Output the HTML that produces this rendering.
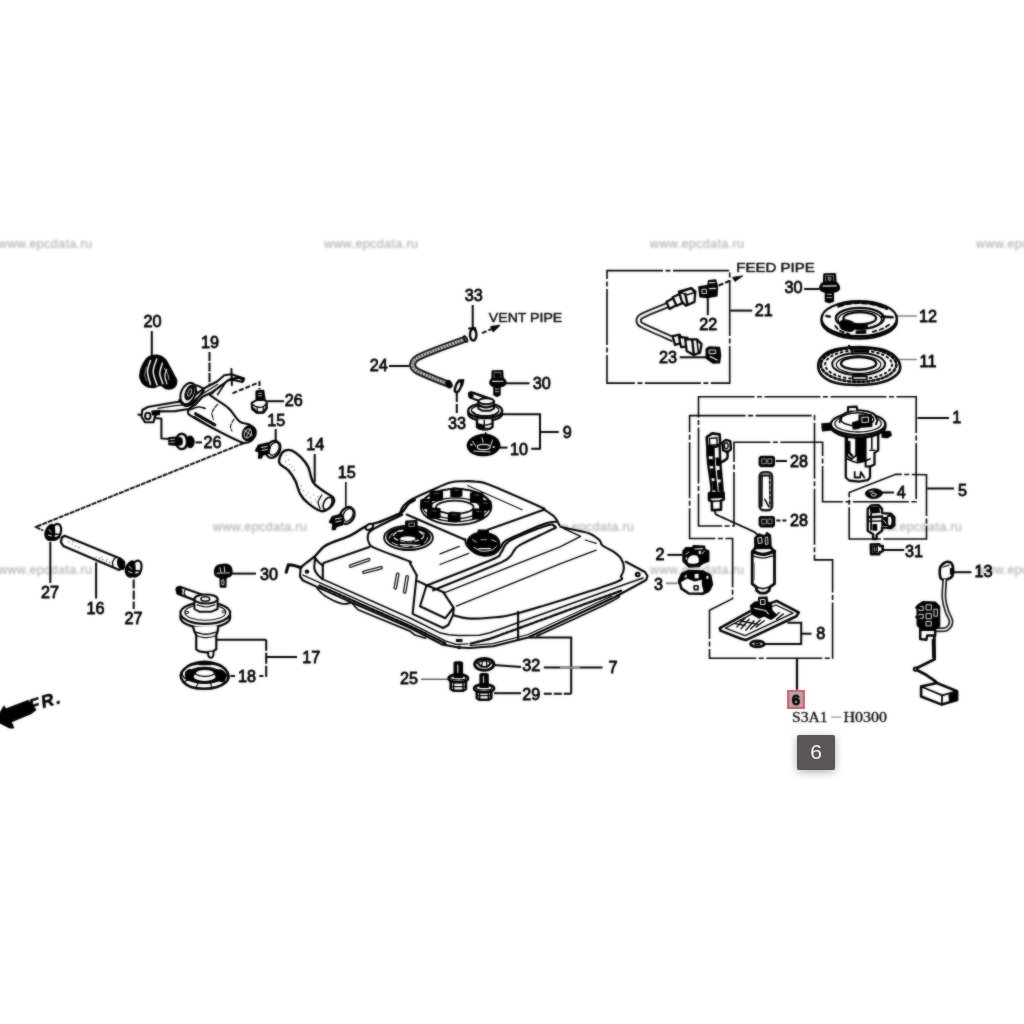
<!DOCTYPE html>
<html>
<head>
<meta charset="utf-8">
<title>Fuel tank parts diagram</title>
<style>
html,body{margin:0;padding:0;background:#fff;}
body{width:1024px;height:1024px;overflow:hidden;position:relative;font-family:"Liberation Sans",sans-serif;}
svg{position:absolute;left:0;top:0;}
.lbl{font-family:"Liberation Sans",sans-serif;font-size:16.2px;fill:#000;stroke:#000;stroke-width:0.8px;text-anchor:middle;}
.wm{font-family:"Liberation Sans",sans-serif;font-size:12.5px;fill:#adadad;stroke:#adadad;stroke-width:0.1px;}
.ld{stroke:#000;stroke-width:2.0;fill:none;}
.bx{stroke:#000;stroke-width:1.6;fill:none;stroke-dasharray:56 2.5 5 2.5;}
.ds{stroke:#000;stroke-width:2.0;fill:none;stroke-dasharray:5 2;}
.p{stroke:#000;stroke-width:2.1;fill:#fff;stroke-linejoin:round;stroke-linecap:round;}
.n{stroke:#000;stroke-width:2.1;fill:none;stroke-linejoin:round;stroke-linecap:round;}
.t{stroke:#151515;stroke-width:1;fill:none;stroke-linejoin:round;stroke-linecap:round;}
.k{stroke:#000;stroke-width:1.4;fill:#000;stroke-linejoin:round;}
.txt{font-family:"Liberation Sans",sans-serif;font-weight:normal;font-size:13.5px;fill:#111;stroke:#111;stroke-width:0.5px;}
#tip{position:absolute;left:797px;top:735px;width:38px;height:35px;background:#5b5656;border-radius:2px;box-shadow:0 2px 8px rgba(0,0,0,0.32);color:#f4f4f4;font-size:21px;line-height:34px;text-align:center;font-family:"Liberation Sans",sans-serif;}
</style>
</head>
<body>
<svg width="1024" height="1024" viewBox="0 0 1024 1024">
<defs>
<filter id="bl" x="-2%" y="-2%" width="104%" height="104%" color-interpolation-filters="sRGB"><feGaussianBlur stdDeviation="0.8" result="b"/><feComposite in="b" in2="SourceGraphic" operator="arithmetic" k1="0" k2="0.5" k3="0.5" k4="0"/></filter>
<filter id="bw" x="-2%" y="-20%" width="104%" height="140%"><feGaussianBlur stdDeviation="0.9"/></filter>
</defs>
<rect x="0" y="0" width="1024" height="1024" fill="#ffffff"/>

<!-- WATERMARKS -->
<g id="wm" filter="url(#bw)">
<text class="wm" x="-2" y="248" textLength="94" lengthAdjust="spacing">www.epcdata.ru</text>
<text class="wm" x="324" y="248" textLength="94" lengthAdjust="spacing">www.epcdata.ru</text>
<text class="wm" x="650" y="248" textLength="94" lengthAdjust="spacing">www.epcdata.ru</text>
<text class="wm" x="976" y="248" textLength="94" lengthAdjust="spacing">www.epcdata.ru</text>
<text class="wm" x="213" y="531" textLength="94" lengthAdjust="spacing">www.epcdata.ru</text>
<text class="wm" x="540" y="531" textLength="94" lengthAdjust="spacing">www.epcdata.ru</text>
<text class="wm" x="868" y="531" textLength="94" lengthAdjust="spacing">www.epcdata.ru</text>
<text class="wm" x="-2" y="574" textLength="94" lengthAdjust="spacing">www.epcdata.ru</text>
<text class="wm" x="324" y="574" textLength="94" lengthAdjust="spacing">www.epcdata.ru</text>
<text class="wm" x="650" y="574" textLength="94" lengthAdjust="spacing">www.epcdata.ru</text>
<text class="wm" x="976" y="574" textLength="94" lengthAdjust="spacing">www.epcdata.ru</text>
</g>

<g id="art" filter="url(#bl)">
<!-- LEADERS_AND_BOXES -->
<g id="leaders">
<!-- 20 -->
<path class="ld" d="M151.8 331V356"/>
<!-- 19 -->
<path class="ld" d="M209.5 352V386" stroke-dasharray="9 1.5"/>
<!-- 26 upper -->
<path class="ld" d="M267.5 401.2H284"/>
<path class="ds" d="M232.5 393.3L259.5 382.2V389.5"/>
<!-- 26 lower -->
<path class="ld" d="M195.5 442.4H202"/>
<path class="ld" d="M137.5 414.5L143.7 415.2M153.2 417.9L161.4 418.6V438.4L169.6 439.1"/>
<!-- long dashed line -->
<path class="ld" d="M244 443L35.9 526.9L43 530.5" stroke-dasharray="5 0.9" style="stroke-width:1.9"/>
<!-- 27 / 16 / 27 -->
<path class="ld" d="M50.3 542V583"/>
<path class="ld" d="M96.1 562.4V598.5"/>
<path class="ld" d="M133.7 579.5V609" stroke-dasharray="9 2"/>
<!-- 30 left -->
<path class="ld" d="M232 573.6H256"/>
<!-- 17/18 bracket -->
<path class="ld" d="M217 639.8H266.2"/>
<path class="ld" d="M266.2 639.8V676H259.3" stroke-dasharray="11 2"/>
<path class="ld" d="M266.2 657H297"/>
<path class="ld" d="M230.5 676H235"/>
<!-- 15,14,15 -->
<path class="ld" d="M275.7 429V440.5"/>
<path class="ld" d="M314.7 454V482"/>
<path class="ld" d="M345.8 482V506.500" style="stroke-width:1.6"/>
<!-- 25, 32, 29, 7 -->
<path class="ld" d="M421 679.300H448" style="stroke:#555;stroke-width:1.4"/>
<path class="ld" d="M494 664.9L521 667"/>
<path class="ld" d="M494 693.2H521"/>
<path class="ld" d="M528.8 637.5H571.2V693.8"/>
<path class="ld" d="M543.8 693.8H571.2" stroke-dasharray="8 2"/>
<path class="ld" d="M543.8 667.5H602.5"/>
<path class="ld" d="M560 667.5H580" style="stroke:#999"/>
<!-- 2, 3 -->
<path class="ld" d="M667.3 554.9H682.5"/>
<path class="ld" d="M665.9 583.3H677.6" style="stroke:#888"/>
<!-- 33, 24, 30, 9, 10 -->
<path class="ld" d="M472.7 305V328"/>
<path class="ds" d="M482 333.2L493.500 328.200"/>
<path class="k" d="M491 326.700L499.500 325.500L493.200 331.400Z"/>
<path class="ld" d="M389 366H409"/>
<path class="ld" d="M456.8 393V413.500" stroke-dasharray="9 2"/>
<path class="ld" d="M505.4 383.300H529.500"/>
<path class="ld" d="M501.9 414.200H540V448.800H531.2"/>
<path class="ld" d="M540 432H558.7"/>
<path class="ld" d="M499.500 447.600H507.500"/>
<!-- box 21 -->
<path class="bx" d="M607 270.600H729.700V383.100H607Z"/>
<path class="ld" d="M730.500 310.600H752.300"/>
<path class="ld" d="M707.800 296.400V315.200"/>
<path class="ds" d="M718.800 285.500L730 280.700"/>
<path class="k" d="M732.500 277.400L743 275.800L735 281.500Z" style="stroke-width:0.8"/>
<path class="ld" d="M679.700 357.300H706.200"/>
<!-- 30 right, 12, 11 -->
<path class="ld" d="M804.100 289H819.500"/>
<path class="ld" d="M897 316H917" style="stroke:#777;stroke-width:1.4"/>
<path class="ld" d="M897 359.500H917" style="stroke:#777;stroke-width:1.4"/>
<!-- box 1 -->
<path class="bx" d="M698.500 396.800H916.200V501.800H822.600V442.300H734V526H698.500Z"/>
<path class="ld" d="M917.600 418H949"/>
<!-- box 6 -->
<path class="bx" d="M689.600 415.600H814.500V559.900H832.600V658.300H709.500V610.300L732.600 598.600V538.500H689.600Z"/>
<path class="ld" d="M797 659V690" style="stroke-width:2.2"/>
<!-- box 5 -->
<path class="bx" d="M849.200 492.500L895.700 474.300L926.500 474.800V539H849.200Z"/>
<path class="ld" d="M927.200 488.500H954"/>
<path class="ld" d="M882 492.500H894"/>
<path class="ld" d="M883 550H904.200"/>
<!-- 28s -->
<path class="ld" d="M775.700 461H787"/>
<path class="ld" d="M776.400 520.500H787" stroke-dasharray="4 2"/>
<!-- 8 -->
<path class="ld" d="M787.500 622.800H801.200V644H764.300"/>
<path class="ld" d="M801.200 633.700H811.500"/>
<!-- 13 -->
<path class="ld" d="M952.700 572.200H971.500"/>
</g>

<!-- LABELS -->
<g id="labels">
<text class="lbl" x="152.5" y="327.1">20</text>
<text class="lbl" x="210.0" y="348.4">19</text>
<text class="lbl" x="293.8" y="405.9">26</text>
<text class="lbl" x="212.4" y="447.6">26</text>
<text class="lbl" x="276.2" y="425.9">15</text>
<text class="lbl" x="315.3" y="449.5">14</text>
<text class="lbl" x="346.7" y="478.2">15</text>
<text class="lbl" x="50.0" y="598.3">27</text>
<text class="lbl" x="95.4" y="614.0">16</text>
<text class="lbl" x="133.4" y="624.2">27</text>
<text class="lbl" x="268.9" y="579.9">30</text>
<text class="lbl" x="311.2" y="663.4">17</text>
<text class="lbl" x="247.0" y="682.4">18</text>
<text class="lbl" x="409.1" y="683.9">25</text>
<text class="lbl" x="531.2" y="670.9">32</text>
<text class="lbl" x="531.2" y="699.6">29</text>
<text class="lbl" x="613.0" y="673.4">7</text>
<text class="lbl" x="660.0" y="560.4">2</text>
<text class="lbl" x="658.6" y="589.6">3</text>
<text class="lbl" x="473.8" y="300.9">33</text>
<text class="lbl" x="378.8" y="370.9">24</text>
<text class="lbl" x="457.1" y="428.9">33</text>
<text class="lbl" x="541.7" y="389.2">30</text>
<text class="lbl" x="567.2" y="437.8">9</text>
<text class="lbl" x="519.1" y="454.8">10</text>
<text class="lbl" x="763.8" y="315.9">21</text>
<text class="lbl" x="708.2" y="329.6">22</text>
<text class="lbl" x="668.0" y="363.2">23</text>
<text class="lbl" x="793.6" y="293.4">30</text>
<text class="lbl" x="928.0" y="322.1">12</text>
<text class="lbl" x="928.0" y="367.0">11</text>
<text class="lbl" x="956.8" y="423.4">1</text>
<text class="lbl" x="962.4" y="495.9">5</text>
<text class="lbl" x="901.2" y="498.3">4</text>
<text class="lbl" x="914.1" y="556.9">31</text>
<text class="lbl" x="798.9" y="466.8">28</text>
<text class="lbl" x="798.9" y="525.6">28</text>
<text class="lbl" x="820.7" y="638.8">8</text>
<text class="lbl" x="983.5" y="577.1">13</text>
<text class="txt" x="488.8" y="322.1" textLength="73.5" lengthAdjust="spacingAndGlyphs">VENT PIPE</text>
<text class="txt" x="736.3" y="272.1" textLength="78.5" lengthAdjust="spacingAndGlyphs">FEED PIPE</text>
</g>

<!-- PARTS -->
<g id="parts">
<!-- 10_tank -->
<path d="M300.6 567.5 L314.7 556.6 L325.6 545.6 L350.6 535.5 L366.2 526.1 L378.8 522.2 L394.4 515.9 L400.3 512.2 L403.4 505.9 L411.2 499.7 L431.6 490.3 L450.3 482.5 L464.4 481.2 L476.9 481.7 L489.4 484.8 L540 506.7 L543.1 508.8 L554.1 516.6 L559.5 525.2 L577.5 530.6 L590 533.8 L599.4 540 L602.5 545.5 L613.4 551.7 L624.4 562.7 L647 574.4 L646.2 579.8 L615 597 L527.5 636.9 L459.8 648.5 L445 645.3 L316.2 587.5 L299.8 576.6Z" fill="#fff" stroke="none"/>
<path class="n" d="M286.2 572.2 L288.4 564.8 L294.4 565.6 L300.6 567.5" style="stroke-width:3.00"/>
<path class="n" d="M300.6 567.5 C303 565.7 310.5 560.2 314.7 556.6 C318.9 552.9 319.6 549.1 325.6 545.6 C331.6 542.1 343.9 538.7 350.6 535.5 C357.4 532.2 361.6 528.3 366.2 526.1 C370.9 523.9 374.1 523.9 378.8 522.2 C383.4 520.5 390.5 517.6 394.4 515.9 C398.3 514.2 399.8 514 402.2 512 C404.5 510 406.4 505.9 408.4 503.9 C410.5 501.9 413.6 500.7 414.7 500" style="stroke-width:2.60"/>
<path class="n" d="M303.8 566.4 C305.8 564.8 312.4 560.3 316.2 557 C320.1 553.8 321 550.2 326.9 546.9 C332.7 543.5 344.7 540.1 351.4 536.9 C358.1 533.6 362.5 529.7 367 527.5 C371.6 525.3 376.8 524.4 378.8 523.8" style="stroke:#fff;stroke-width:0.70"/>
<ellipse class="p" cx="369.4" cy="526.9" rx="4.1" ry="2.7" transform="rotate(-30 369.4 526.9)"/>
<path class="n" d="M400.3 512.2 C400.8 511.1 401.6 508 403.4 505.9 C405.3 503.9 406.6 502.3 411.2 499.7 C415.9 497.1 425.1 493.2 431.6 490.3 C438.1 487.4 444.8 484 450.3 482.5 C455.8 481 459.9 481.4 464.4 481.2 C468.8 481.1 472.7 481.1 476.9 481.7 C481 482.3 478.9 480.7 489.4 484.8 C499.9 489 531 502.7 540 506.7 C549 510.7 540.8 507.1 543.1 508.8 C545.5 510.4 551.3 513.8 554.1 516.6 C556.8 519.3 558.6 523.7 559.5 525.2"/>
<path class="n" d="M467.5 485.6 L522.2 509.8" style="stroke-width:1.10"/>
<path class="n" d="M544.7 509.5 L487.8 529.7"/>
<path class="n" d="M406.6 514.5 L464.4 539.5 L465.2 539.3"/>
<path class="n" d="M465.2 539.3 C465.5 540.3 465.3 543.5 467 545.7 C468.6 548 472.2 551.1 475.2 552.7 C478.1 554.4 481.2 555.6 484.5 555.7 C487.9 555.8 492.3 554.8 495.1 553.3 C497.8 551.9 499.4 548.8 500.9 546.9 C502.5 544.9 502.1 543.4 504.5 541.6 C506.8 539.8 508.2 539.4 515 536.3 C521.8 533.3 538.4 525.9 545.5 523.4 C552.5 521 555.2 522 557.2 521.7"/>
<path class="n" d="M428.4 584.8 C439 580.7 479.5 565.1 491.6 559.8 C503.6 554.4 498.6 555.3 500.9 552.7 C503.3 550.2 503.3 547 505.6 544.5 C508 542.1 508 541.3 515 538.1 C522 534.9 541.3 527.2 547.8 525.2 C554.4 523.2 553 525.6 554.3 526 C555.5 526.4 555.7 527.2 555.4 527.8 C555.1 528.3 558.1 526.6 552.5 529.3 C546.9 532 528.3 540.6 522 543.9 C515.8 547.3 517.2 547 515 549.2 C512.9 551.5 512.3 554.9 509.1 557.4 C506 560 508.9 559 496.3 564.5 C483.6 569.9 443.6 586 433.1 590.3"/>
<path class="n" d="M440 553.9 L459.3 546.3" style="stroke-width:1.30"/>
<path class="n" d="M440 564.5 L468.7 553.3" style="stroke-width:1.30"/>
<path class="n" d="M560.3 526.7 C563.2 527.4 572.6 529.5 577.5 530.6 C582.4 531.8 586.4 532.2 590 533.8 C593.6 535.3 597.3 538 599.4 540 C601.5 542 600.2 543.5 602.5 545.5 C604.8 547.4 610.3 549.5 613.4 551.7 C616.6 553.9 619.5 556 621.2 558.8 C623 561.5 623.9 565.3 623.9 568.1 C623.9 570.9 623.3 573 621.2 575.6 C619.2 578.2 628.8 577.6 611.9 583.8 C594.9 589.9 540.1 607 519.7 612.7 C499.3 618.3 498.1 616.7 489.4 617.7 C480.7 618.6 473.5 618.8 467.5 618.4 C461.5 618 455.8 615.8 453.4 615.3"/>
<path class="n" d="M563.4 528.3 L580.6 536.4 L560 546.9 L444.7 592.6" style="stroke-width:1.40"/>
<path class="n" d="M585.3 540 L596.2 543.4" style="stroke-width:1.30"/>
<path class="n" d="M596.2 550.2 L560 563.9 L456.4 606.1" style="stroke-width:1.40"/>
<path class="n" d="M518.1 611.9 L518.1 638.4"/>
<path class="n" d="M625.8 561.8 L645 572 L647.5 576 L646.2 580 L615 597 L528 637.5 L493.4 646.3 L470 648 L458.3 647.5 L441.9 644.4 L410 627.9 L350.9 602.1 L317 586.9 L303 580.5 L300 576.5 L300.6 568.7"/>
<path class="n" d="M643 578 L624.4 584.5 L490 632.8 L479.4 635.2 L458.3 635.6 L448.9 634.8 L439.5 632.7 L410 618 L322.8 579.3" style="stroke-width:1.50"/>
<path class="n" d="M621 590.8 L490 638.8 L470 643.8" style="stroke-width:2.40;stroke-dasharray:3.4 1.8"/>
<path class="n" d="M612 596 L528 634.5 L493 643.6 L470 645.5" style="stroke-width:1.10"/>
<path class="n" d="M302.9 575.2 L410 623.2 L445.4 640.9 L455.9 644.4 L468 643.8" style="stroke-width:1.30"/>
<path class="n" d="M319.3 585.6 L410 626 L446 643.5" style="stroke-width:2.20;stroke-dasharray:3.4 1.8"/>
<ellipse class="n" cx="637.7" cy="574.4" rx="1.9" ry="1.7"/>
<ellipse class="k" cx="307" cy="571.7" rx="1.6" ry="1.4"/>
<path class="k" d="M456.5 639.7 L461.8 639.7 L461.8 641.4 L456.5 641.4Z"/>
<ellipse class="n" cx="459.2" cy="647.3" rx="1.6" ry="1.3" style="stroke-width:1.20"/>
<path class="n" d="M317 588.1 C318.3 589.4 321.1 593.4 325.2 595.9 C329.3 598.5 337.3 602.4 341.6 603.6 C345.9 604.7 349.4 602.9 350.9 602.7" style="stroke-width:1.70"/>
<path class="n" d="M352.1 603.3 L358 609.8 L410 631.1 L414.9 635 L425.5 638.3" style="stroke-width:1.70"/>
<path class="n" d="M536.9 636.1 C549.4 630.3 598.5 608.1 611.9 601.2 C625.3 594.4 616.4 596 617.3 595" style="stroke-width:1.60"/>
<path class="n" d="M315.2 558.2 C315.1 560 313.9 565.9 314.4 568.8 C314.9 571.6 316.7 573.4 318.1 575.2 C319.5 577 322 578.6 322.8 579.3"/>
<path class="n" d="M315.2 558.2 L318.1 561.7 L322.8 565.8 L322.8 578.7"/>
<path class="n" d="M323 565.2 L323.4 562.9 L369.4 546.9"/>
<path class="n" d="M402.2 514.8 C397.2 517.3 378.2 526 372.5 529.7 C366.8 533.3 368.3 534.4 367.8 536.7 C367.3 539.1 368.1 541.8 369.4 543.8 C370.7 545.7 369.1 545.6 375.6 548.4 C382.1 551.3 402.7 558.4 408.4 560.9 C414.2 563.5 408.9 561.1 410.2 563.5 C411.6 565.9 415.6 573.3 416.7 575.2"/>
<path class="n" d="M416.7 575.2 L412.6 613.9 L443 628 L448.3 625 L453 615.1 L453.6 609.2"/>
<path class="n" d="M443.5 592.6 L452.9 606.6 L453.6 609.2"/>
<path class="n" d="M417.9 581.1 L426.6 585.2 L444.2 592.5"/>
<path class="n" d="M426.6 585.2 L420 606.3 L445.4 618.2 L453.6 607.5"/>
<path d="M350.6 566.1L368.6 559.7" stroke="#151515" stroke-width="3.7" stroke-linecap="round" fill="none"/>
<path d="M350.6 566.1L368.6 559.7" stroke="#fff" stroke-width="1.1" stroke-linecap="round" fill="none"/>
<path d="M363.9 572.3L381.1 567.7" stroke="#151515" stroke-width="3.7" stroke-linecap="round" fill="none"/>
<path d="M363.9 572.3L381.1 567.7" stroke="#fff" stroke-width="1.1" stroke-linecap="round" fill="none"/>
<path d="M397.8 574.2L395.3 587.8" stroke="#151515" stroke-width="3.7" stroke-linecap="round" fill="none"/>
<path d="M397.8 574.2L395.3 587.8" stroke="#fff" stroke-width="1.1" stroke-linecap="round" fill="none"/>
<path d="M407.2 576.9L404.7 591.9" stroke="#151515" stroke-width="3.7" stroke-linecap="round" fill="none"/>
<path d="M407.2 576.9L404.7 591.9" stroke="#fff" stroke-width="1.1" stroke-linecap="round" fill="none"/>
<ellipse class="p" cx="456.1" cy="506.9" rx="35.3" ry="18" style="stroke-width:1.90"/>
<ellipse class="n" cx="455.8" cy="505.4" rx="33.3" ry="16.2" style="stroke-width:1.20"/>
<ellipse class="n" cx="455.1" cy="508.2" rx="25.4" ry="10.4" style="stroke-width:1.30"/>
<ellipse class="p" cx="454.8" cy="507.3" rx="18.8" ry="6.6" style="stroke-width:1.80"/>
<path class="k" d="M430.4 492.1 L433.4 491.1 L442.4 491.7 L442.4 499.6 L438.4 500.6 L430.4 500Z"/>
<path class="n" d="M434.4 493.5 L438.8 493.7" style="stroke:#999;stroke-width:0.60"/>
<path class="k" d="M451 489 L453.6 488 L461.7 488.6 L461.7 495.9 L458.1 496.9 L451 496.2Z"/>
<path class="n" d="M454.5 490.2 L458.5 490.5" style="stroke:#999;stroke-width:0.60"/>
<path class="k" d="M470.6 493.5 L473.6 492.4 L482.7 493.1 L482.7 501.6 L478.7 502.6 L470.6 502Z"/>
<path class="n" d="M474.6 495 L479.1 495.2" style="stroke:#999;stroke-width:0.60"/>
<path class="k" d="M479.9 501.6 L482.6 500.6 L490.7 501.3 L490.7 509.1 L487.1 510.2 L479.9 509.5Z"/>
<path class="n" d="M483.5 503 L487.5 503.3" style="stroke:#999;stroke-width:0.60"/>
<path class="k" d="M472.9 510 L475.6 508.9 L483.7 509.6 L483.7 518.1 L480.1 519.1 L472.9 518.5Z"/>
<path class="n" d="M476.5 511.5 L480.5 511.7" style="stroke:#999;stroke-width:0.60"/>
<path class="k" d="M448.5 513.3 L451.3 512.3 L459.9 512.9 L459.9 520.8 L456.1 521.8 L448.5 521.2Z"/>
<path class="n" d="M452.3 514.7 L456.5 514.9" style="stroke:#999;stroke-width:0.60"/>
<path class="k" d="M427.8 509.2 L430.9 508.2 L439.9 508.8 L439.9 517.3 L435.9 518.3 L427.8 517.7Z"/>
<path class="n" d="M431.9 510.7 L436.3 511" style="stroke:#999;stroke-width:0.60"/>
<path class="k" d="M420.9 500.1 L423.6 499.1 L431.7 499.7 L431.7 507.6 L428.1 508.6 L420.9 508Z"/>
<path class="n" d="M424.5 501.5 L428.4 501.7" style="stroke:#999;stroke-width:0.60"/>
<ellipse class="p" cx="408.5" cy="537.8" rx="24.4" ry="12.2" style="stroke-width:1.90"/>
<ellipse class="k" cx="408.5" cy="537.1" rx="21.6" ry="10.2"/>
<ellipse class="n" cx="408.5" cy="535.9" rx="15.2" ry="5.8" style="stroke:#eee;stroke-width:1.30;stroke-dasharray:4 3"/>
<ellipse class="n" cx="408.5" cy="538.1" rx="19" ry="8.4" style="stroke:#fff;stroke-width:0.90;stroke-dasharray:6 5"/>
<ellipse class="p" cx="407.9" cy="538.7" rx="8.4" ry="2.8" style="stroke-width:0.90"/>
<path class="k" d="M405.9 521.3 L416.7 520.6 L417.5 531.4 L416.1 534 L406.6 534 L405.3 531.4Z"/>
<path class="n" d="M409.1 523.2 L414.5 522.9 L414.5 526.3 L409.4 526.6Z" style="stroke:#ddd;stroke-width:0.70"/>
<path class="n" d="M400.2 544.7 L416.7 545.4" style="stroke:#fff;stroke-width:1.20"/>
<path class="n" d="M402.8 549.6 L414.8 549.6" style="stroke-width:2.00"/>
<path class="k" d="M467.8 539.7 C468.5 538 470.8 535.8 472.6 534.6 C474.4 533.4 475.7 532.9 478.3 532.7 C481 532.5 485.4 532.6 488.5 533.3 C491.5 534.1 494.8 535.3 496.7 537.1 C498.6 538.9 499.8 541.8 499.9 544.1 C500 546.4 499.2 549.3 497.4 551.1 C495.6 552.9 492.2 554.3 489.1 554.9 C486 555.5 481.9 555.6 478.9 554.9 C476 554.2 473.1 552.2 471.3 550.5 C469.5 548.8 468.7 546.5 468.2 544.7 C467.6 542.9 467 541.4 467.8 539.7Z"/>
<path class="k" d="M478.3 530.1 L488.1 530.1 L488.5 537.1 L478.1 537.4Z"/>
<path class="n" d="M473.9 547.3 C475.1 547.9 478.5 550.6 481.5 551.1 C484.4 551.6 489.1 550.9 491.6 550.1 C494.2 549.2 495.9 546.7 496.7 546" style="stroke:#eee;stroke-width:1.00"/>
<path class="n" d="M478.9 548.6 L490.4 548.6" style="stroke:#fff;stroke-width:1.40"/>
<path class="n" d="M472.6 539.7 L476.4 542.2" style="stroke:#eee;stroke-width:0.90"/>
<path class="n" d="M491.6 539.7 L496.1 541.6" style="stroke:#eee;stroke-width:0.90"/>
<path class="n" d="M480.8 539.7 L486.6 539.7" style="stroke:#ddd;stroke-width:0.80"/>
<!-- 20_upperleft -->
<path class="k" d="M143.7 363.2 C145 361.1 146.2 358.4 148.5 357.1 C150.7 355.8 154.6 355 157.3 355.3 C160.1 355.7 162.8 357.1 164.9 359.1 C167 361.1 168.4 364.7 169.9 367.3 C171.5 370 172.9 373 174 375.3 C175.2 377.6 176.7 379 176.8 381 C176.8 383 176 385.8 174.4 387.2 C172.8 388.5 169.5 389.2 167.2 388.9 C164.8 388.7 162.7 385.6 160.4 385.4 C158 385.2 155.8 387.6 153.2 387.6 C150.7 387.6 147.2 386.9 145 385.4 C142.9 383.8 140.8 380.8 140.1 378.3 C139.4 375.7 140.1 372.6 140.7 370.1 C141.3 367.6 142.4 365.4 143.7 363.2Z"/>
<path class="n" d="M150.5 360.5 C150 362.3 147.5 367.5 147.5 371.4 C147.5 375.4 150 382.3 150.5 384.4" style="stroke:#fff;stroke-width:1.50"/>
<path class="n" d="M156.7 359.1 C156.1 361.2 153.2 367.1 153.2 371.4 C153.3 375.8 156.4 382.8 157.1 385.1" style="stroke:#fff;stroke-width:1.50"/>
<path class="n" d="M162.3 363.2 C161.9 365 159.7 370.1 159.8 373.5 C159.9 376.9 162.3 382 162.8 383.8" style="stroke:#fff;stroke-width:1.50"/>
<path class="n" d="M166.6 369.4 C166.3 370.5 164.8 373.8 164.9 376.2 C164.9 378.6 166.6 382.5 166.9 383.8" style="stroke:#fff;stroke-width:1.20"/>
<path class="n" d="M164.2 368 C164.8 368.9 166.8 371.6 167.6 373.5 C168.4 375.4 168.7 378.6 169 379.6" style="stroke:#ddd;stroke-width:0.80"/>
<path class="n" d="M146.4 367.3 C146.1 368.6 144.7 372.6 144.8 374.9 C144.8 377.1 146.4 380 146.7 381" style="stroke:#bbb;stroke-width:0.80"/>
<path class="p" d="M192.2 385.8 C192.7 384.5 197.8 385.3 201.1 387.2 C204.4 389 207.5 393.3 212 396.7 C216.6 400.2 223.9 404 228.4 408.1 C233 412.2 236 418.6 239.4 421.4 C242.8 424.1 246.3 423 248.9 424.5 C251.6 426 254.8 427.9 255.5 430.2 C256.2 432.6 254.9 436.6 253.3 438.7 C251.8 440.8 248.8 442.5 246.2 442.8 C243.7 443.2 243.7 443.3 238 440.8 C232.3 438.3 219.8 431.9 212 427.8 C204.3 423.7 195.5 418.9 191.5 416.2 C187.5 413.4 187.8 413.3 188.1 411.1 C188.4 408.9 191.9 405.6 193.6 402.9 C195.3 400.2 198.6 397.5 198.4 394.7 C198.1 391.8 191.8 387.1 192.2 385.8Z"/>
<path class="p" d="M142.3 410 L147.8 407 L175.1 402.2 L188.8 400.8 L195.6 394.7 L203.8 388.5 L217.5 381.3 L224.3 375.3 L231.2 374.2 L244.2 378.6 L242.4 382.1 L233.9 379.9 L228.7 379.9 L219.6 386.8 L212 392.2 L202.5 396.7 L195.6 404.3 L188.8 409 L175.1 411.1 L158 411.4 L154.9 416.6 L153.5 422.3 L145 422.3 L141.5 416.6Z"/>
<path class="n" d="M158 408.4 L175.1 405.6 L190.2 404.3 L198.4 396.7 L206.6 391.3 L217.5 384.4" style="stroke-width:1.20"/>
<path class="n" d="M217.5 394.7 L225.7 382.4 L229.8 379.6" style="stroke-width:1.60"/>
<path class="n" d="M212 394 L220.2 385.1" style="stroke-width:1.20"/>
<path class="n" d="M231.4 369 L231.9 385.1" style="stroke-width:2.00"/>
<path class="n" d="M230.5 379 L239.4 377.6 L243.5 380.3" style="stroke-width:2.20"/>
<ellipse class="p" cx="147.8" cy="416" rx="2.7" ry="3.3" style="stroke-width:2.00"/>
<path class="k" d="M151.9 411.1 L159.4 410.4 L159.4 414.5 L152.6 414.9Z"/>
<ellipse class="p" cx="188.1" cy="393.6" rx="7.1" ry="11.2" transform="rotate(22 188.1 393.6)" style="stroke-width:2.10"/>
<ellipse class="k" cx="189.5" cy="392.6" rx="3.8" ry="7.5" transform="rotate(22 189.5 392.6)"/>
<ellipse class="n" cx="189.6" cy="392.5" rx="1.6" ry="4.1" transform="rotate(22 189.6 392.5)" style="stroke:#ddd;stroke-width:0.80"/>
<path class="n" d="M179.2 400.2 C180.1 401.1 182.5 404.9 184.7 405.6 C186.9 406.3 189.9 405.6 192.2 404.3 C194.5 402.9 196.4 399.7 198.4 397.4 C200.3 395.1 202.9 391.7 203.8 390.6" style="stroke-width:2.20"/>
<path class="n" d="M217.5 404.3 C216.6 405.6 212.7 410 212 412.5 C211.4 415 213.2 418.2 213.4 419.3" style="stroke-width:1.20;stroke-dasharray:4 1.5"/>
<path class="n" d="M233.9 419.3 C233.3 420.4 230.8 424.2 230.5 426.1 C230.2 428.1 231.6 430.1 231.9 430.9" style="stroke-width:1.20;stroke-dasharray:4 1.5"/>
<path class="n" d="M190.2 409.7 C191.5 409.3 195.9 407.2 198.4 407 C200.9 406.8 204.1 408.1 205.2 408.4" style="stroke-width:1.60"/>
<path class="n" d="M195.6 413.8 L214.8 424.8" style="stroke-width:3.20"/>
<path class="n" d="M194.3 416.6 L212 427.5" style="stroke-width:1.20"/>
<ellipse class="k" cx="248.7" cy="433.2" rx="6" ry="7.7" transform="rotate(25 248.7 433.2)"/>
<ellipse class="n" cx="247.9" cy="433.5" rx="3.3" ry="4.6" transform="rotate(25 247.9 433.5)" style="stroke:#eee;stroke-width:1.00"/>
<path class="n" d="M244.2 430.2 L252.4 435.7" style="stroke:#eee;stroke-width:0.80"/>
<path class="n" d="M246.2 437.8 L250.3 428.9" style="stroke:#eee;stroke-width:0.80"/>
<path class="p" d="M256.5 391.3 L263.3 390.9 L264.7 400.2 L266.7 401.5 L266.7 408.4 L263.3 412.5 L256.5 412.7 L252.1 409 L251.7 402.9 L256.5 400.2Z"/>
<path class="k" d="M256.9 391.7 L262.9 391.4 L263.3 400.2 L257.2 400.2Z"/>
<path class="n" d="M258.5 393.3 L261.5 393.3" style="stroke:#ccc;stroke-width:1.00"/>
<path class="n" d="M258.5 395.8 L261.5 395.8" style="stroke:#ccc;stroke-width:1.00"/>
<path class="n" d="M252 404.3 C252.8 404.7 255.3 406.6 257.2 407 C259 407.4 261.7 407.4 263.3 406.7 C264.9 406.1 266.2 403.8 266.7 403.2" style="stroke-width:1.40"/>
<path class="n" d="M257.2 407 L257.2 412.5" style="stroke-width:1.20"/>
<path class="n" d="M263.3 406.7 L263.3 412.2" style="stroke-width:1.20"/>
<path class="n" d="M253.1 408.4 C253.7 409 255.4 411.6 257.2 412.2 C258.9 412.8 261.8 412.9 263.3 412.2 C264.9 411.4 265.9 408.4 266.5 407.7" style="stroke-width:2.40"/>
<path class="k" d="M169 437.8 L176.5 437.1 L176.5 445.3 L169 444.6Z"/>
<path class="n" d="M170.3 439.5 L175.1 439.3" style="stroke:#ccc;stroke-width:0.90"/>
<path class="n" d="M170.3 442.3 L175.1 442" style="stroke:#ccc;stroke-width:0.90"/>
<ellipse class="p" cx="181.7" cy="441.4" rx="5.7" ry="7.7" style="stroke-width:2.40"/>
<ellipse class="k" cx="179.5" cy="441.4" rx="2.7" ry="3.6"/>
<ellipse class="k" cx="190.2" cy="441.9" rx="3.8" ry="5.7"/>
<path class="n" d="M185.4 435.7 C185.7 436.7 187.4 439.8 187.4 441.9 C187.4 443.9 185.7 447 185.4 448" style="stroke-width:2.20"/>
<!-- 21_hose -->
<path class="p" d="M280.2 456.3 C281 454.2 282.9 451.6 284.8 450.7 C286.8 449.8 289.1 449.5 291.9 450.7 C294.6 451.9 298.5 455 301.3 457.7 C304 460.5 306.3 463 308.3 467.1 C310.2 471.2 310.6 478.2 313 482.1 C315.3 486 319 487.8 322.3 490.3 C325.7 492.9 331 495.4 332.9 497.3 C334.8 499.3 334.4 500.5 333.8 502.3 C333.3 504.1 331.7 506.7 329.6 508.1 C327.5 509.6 324.7 511.8 321.2 511.1 C317.6 510.3 311.8 506.3 308.3 503.4 C304.8 500.6 302.2 497.6 300.1 493.8 C297.9 490.1 297.3 484.8 295.4 480.9 C293.4 477 291 473.3 288.4 470.4 C285.7 467.5 281.1 465.9 279.7 463.6 C278.3 461.3 279.3 458.5 280.2 456.3Z" style="stroke-width:2.40"/>
<ellipse class="p" cx="327.6" cy="503.4" rx="3.8" ry="6.6" transform="rotate(28 327.6 503.4)" style="stroke-width:1.60"/>
<path class="n" d="M321.8 495 C321.2 496.2 318.5 499.8 318.2 502 C318 504.3 319.7 507.4 320 508.5" style="stroke-width:1.30"/>
<circle cx="286" cy="455.2" r="0.55" fill="#333"/>
<circle cx="288.4" cy="459.8" r="0.55" fill="#333"/>
<circle cx="285.4" cy="461.6" r="0.55" fill="#333"/>
<circle cx="291.9" cy="466.3" r="0.55" fill="#333"/>
<circle cx="294.2" cy="470.4" r="0.55" fill="#333"/>
<circle cx="289.5" cy="464.5" r="0.55" fill="#333"/>
<circle cx="301.3" cy="485.6" r="0.55" fill="#333"/>
<circle cx="303.6" cy="490.3" r="0.55" fill="#333"/>
<circle cx="305.9" cy="495" r="0.55" fill="#333"/>
<circle cx="310.6" cy="497.3" r="0.55" fill="#333"/>
<circle cx="315.3" cy="499.7" r="0.55" fill="#333"/>
<circle cx="313.6" cy="495" r="0.55" fill="#333"/>
<circle cx="317.7" cy="496.2" r="0.55" fill="#333"/>
<circle cx="308.3" cy="492.7" r="0.55" fill="#333"/>
<circle cx="300.1" cy="489.1" r="0.55" fill="#333"/>
<circle cx="316.5" cy="502" r="0.55" fill="#333"/>
<circle cx="311.8" cy="502" r="0.55" fill="#333"/>
<ellipse class="n" cx="273.1" cy="449.3" rx="6.8" ry="8.9" transform="rotate(28 273.1 449.3)" style="stroke-width:2.30"/>
<ellipse class="n" cx="274.1" cy="448.8" rx="4.5" ry="6.8" transform="rotate(28 274.1 448.8)" style="stroke-width:1.30"/>
<path class="k" d="M258.5 445.2 L267.9 442.9 L270.2 447.5 L268.4 453.4 L262.6 455.2 L261.4 458.1 L258.5 458.1 L259.1 452.2 L255.5 450.5Z"/>
<path class="n" d="M261.4 447.5 L267.3 446.4" style="stroke:#eee;stroke-width:1.00"/>
<path class="n" d="M262 450.5 L267.3 449.3" style="stroke:#eee;stroke-width:1.00"/>
<ellipse class="n" cx="347.2" cy="515.5" rx="6.8" ry="8.9" transform="rotate(28 347.2 515.5)" style="stroke-width:2.30"/>
<ellipse class="n" cx="348.1" cy="515" rx="4.5" ry="6.8" transform="rotate(28 348.1 515)" style="stroke-width:1.30"/>
<path class="k" d="M332.3 516.7 L341.7 514.3 L344 519 L342.3 524.9 L336.4 526.6 L335.2 529.6 L332.3 529.6 L332.9 523.7 L329.4 522Z"/>
<path class="n" d="M335.2 519 L341.1 517.9" style="stroke:#eee;stroke-width:1.00"/>
<path class="n" d="M335.8 522 L341.1 520.8" style="stroke:#eee;stroke-width:1.00"/>
<!-- 22_left -->
<ellipse class="p" cx="55.9" cy="531.9" rx="4.9" ry="8.2" transform="rotate(18 55.9 531.9)" style="stroke-width:2.20"/>
<path class="k" d="M45.5 531 C46.1 529.3 47.3 527.3 48.5 526.2 C49.7 525.1 51.6 524 52.6 524.6 C53.6 525.1 54.4 527.2 54.5 529.6 C54.7 532 54.4 537 53.4 538.8 C52.4 540.5 49.9 540.6 48.5 540.1 C47.1 539.7 45.7 537.6 45.2 536 C44.7 534.5 45 532.6 45.5 531Z"/>
<path class="n" d="M48.9 529.6 L51.3 532.3" style="stroke:#eee;stroke-width:1.00"/>
<path class="n" d="M48.2 535.1 L51.7 536" style="stroke:#eee;stroke-width:1.00"/>
<path class="n" d="M53 533.7 L60.5 534.7" style="stroke-width:1.60"/>
<path class="n" d="M54.8 538.5 L59.2 537.1" style="stroke-width:2.40"/>
<ellipse class="p" cx="136.3" cy="568.6" rx="4.9" ry="8.2" transform="rotate(18 136.3 568.6)" style="stroke-width:2.20"/>
<path class="k" d="M125.9 567.6 C126.4 566 127.7 563.9 128.9 562.8 C130.1 561.8 132 560.6 133 561.2 C134 561.8 134.8 563.9 134.9 566.3 C135.1 568.6 134.8 573.7 133.8 575.4 C132.8 577.2 130.3 577.2 128.9 576.8 C127.5 576.3 126.1 574.2 125.6 572.7 C125.1 571.2 125.4 569.3 125.9 567.6Z"/>
<path class="n" d="M129.3 566.3 L131.6 569" style="stroke:#eee;stroke-width:1.00"/>
<path class="n" d="M128.6 571.7 L132.1 572.7" style="stroke:#eee;stroke-width:1.00"/>
<path class="n" d="M133.4 570.4 L140.9 571.3" style="stroke-width:1.60"/>
<path class="n" d="M135.2 575.1 L139.6 573.8" style="stroke-width:2.40"/>
<path class="p" d="M64.6 535.8 L120.7 558.7 L124.1 561.7 L124.1 567.2 L119.3 569.9 L63.3 546 L60.8 541.9 L61.9 537.5Z" style="stroke-width:2.20"/>
<ellipse class="k" cx="121" cy="564.1" rx="3" ry="5.5" transform="rotate(-20 121 564.1)"/>
<path class="n" d="M115.2 557.6 C114.8 558.4 112.8 560.8 112.5 562.4 C112.2 564 113.1 566.4 113.2 567.2" style="stroke-width:1.30"/>
<circle cx="68.8" cy="541.9" r="0.6" fill="#333"/>
<circle cx="72.2" cy="544" r="0.6" fill="#333"/>
<circle cx="75.6" cy="546" r="0.6" fill="#333"/>
<circle cx="79" cy="547.4" r="0.6" fill="#333"/>
<circle cx="72.9" cy="541.2" r="0.6" fill="#333"/>
<circle cx="96.1" cy="557" r="0.6" fill="#333"/>
<circle cx="99.5" cy="558.3" r="0.6" fill="#333"/>
<circle cx="102.9" cy="559.7" r="0.6" fill="#333"/>
<circle cx="106.4" cy="561.1" r="0.6" fill="#333"/>
<circle cx="109.8" cy="562.4" r="0.6" fill="#333"/>
<circle cx="101.6" cy="557" r="0.6" fill="#333"/>
<circle cx="107" cy="559" r="0.6" fill="#333"/>
<circle cx="98.8" cy="560.4" r="0.6" fill="#333"/>
<circle cx="104.3" cy="562.4" r="0.6" fill="#333"/>
<circle cx="108.4" cy="564.5" r="0.6" fill="#333"/>
<path class="k" d="M-1.2 715.1 L4.1 706.3 L5.3 709.3 L28.1 700.7 L35.7 709.8 L30.7 713.6 L10.8 721.8 L13.6 727.7 L9.4 727.7 L-1.2 722.2Z"/>
<text x="31" y="712" transform="rotate(-17 31 712)" style="font-family:'Liberation Sans',sans-serif;font-weight:bold;font-style:italic;font-size:17.5px;letter-spacing:1.8px;fill:#000;stroke:#000;stroke-width:0.5px">FR.</text>
<path class="k" d="M214.6 572.4 C214.5 570.4 215.3 566.8 217.6 565.5 C220 564.3 226.2 563.8 228.6 564.8 C231 565.9 232 569.7 232 571.7 C232 573.7 230.9 576 228.6 576.9 C226.3 577.8 220.6 577.9 218.3 577.1 C216 576.4 214.7 574.3 214.6 572.4Z"/>
<path class="k" d="M220.1 576.5 L226.1 576.5 L225.8 587 L220.4 587Z"/>
<path class="n" d="M219.7 567.6 L221.1 572.4" style="stroke:#eee;stroke-width:1.00"/>
<path class="n" d="M224.2 566.9 L224.7 571.7" style="stroke:#eee;stroke-width:1.00"/>
<path class="n" d="M217 573.3 L229.3 572.8" style="stroke:#eee;stroke-width:0.90"/>
<path class="n" d="M222.3 579.9 L223.9 579.9 L223.9 584.7 L222.3 584.7Z" style="stroke:#eee;stroke-width:0.80"/>
<path class="p" d="M180 586.7 L206 596 L206 602.2 L201.9 602.9 L177.6 593.6 L176.6 589.9Z" style="stroke-width:2.20"/>
<ellipse class="k" cx="179.1" cy="590.3" rx="2.5" ry="3.7" transform="rotate(-20 179.1 590.3)"/>
<path class="n" d="M185.5 589.2 C185.3 589.8 184.1 591.5 184.1 592.6 C184.1 593.7 185.3 595.4 185.5 596" style="stroke-width:1.20"/>
<ellipse class="p" cx="205.3" cy="617.2" rx="24.9" ry="10.7" style="stroke-width:2.20"/>
<ellipse class="p" cx="205.3" cy="613.1" rx="24.9" ry="10.7" style="stroke-width:2.20"/>
<ellipse class="n" cx="205.3" cy="612.4" rx="20.5" ry="7.9" style="stroke-width:1.10"/>
<path class="p" d="M194.4 599 L194.4 609 L199.2 611.7 L211.5 611.7 L217.6 609 L217.6 599Z" style="stroke-width:2.00"/>
<ellipse class="p" cx="206" cy="599" rx="11.6" ry="4.6" style="stroke-width:2.00"/>
<ellipse class="n" cx="205.3" cy="599" rx="4.4" ry="2.2" style="stroke-width:1.60"/>
<path class="n" d="M197.1 604.9 C198.6 605.2 203.1 607 206 607 C209 607 213.4 605.2 214.9 604.9" style="stroke-width:1.20"/>
<ellipse class="n" cx="186.9" cy="612.4" rx="1.9" ry="1.1" style="stroke-width:1.00"/>
<ellipse class="n" cx="223.8" cy="611.7" rx="1.9" ry="1.1" style="stroke-width:1.00"/>
<path class="p" d="M193 626.8 L194.4 631.6 L196.2 635 L196.2 649.3 L199.2 651.4 L206 652.3 L212.9 651.4 L216.3 649.3 L216.3 635 L217.6 631.6 L218.3 626.1" style="stroke-width:2.20"/>
<path class="n" d="M194.4 631.6 C196.3 632 202.1 634.3 206 634.3 C209.9 634.3 215.7 632 217.6 631.6" style="stroke-width:1.40"/>
<path class="n" d="M196.2 635.7 C197.8 636 202.7 637.7 206 637.7 C209.4 637.7 214.6 636 216.3 635.7" style="stroke-width:1.20"/>
<path class="p" d="M208.1 652.1 C208.1 652.8 208 655.2 208.5 656.2 C208.9 657.1 210 657.8 210.8 657.8 C211.6 657.8 212.7 657.2 213.1 656.2 C213.6 655.2 213.5 652.5 213.5 651.8" style="stroke-width:2.00"/>
<path class="p" d="M180.7 675.3 C180.7 673.3 181.7 671.7 183.5 669.8 C185.2 668 187.4 665.7 191 664.4 C194.5 663.1 200.1 661.9 204.6 661.9 C209.2 661.9 214.9 663.2 218.3 664.4 C221.7 665.6 223.4 667.2 225.2 669.2 C226.9 671.1 228.5 673.8 228.6 676 C228.7 678.2 227.8 680.3 225.8 682.2 C223.9 684 220.5 685.8 217 686.9 C213.4 688 209 688.7 204.6 688.7 C200.3 688.7 194.5 688 191 686.9 C187.4 685.8 185.2 684.1 183.5 682.2 C181.7 680.2 180.7 677.4 180.7 675.3Z" style="stroke-width:2.60"/>
<ellipse class="n" cx="204.6" cy="673.3" rx="22.6" ry="9.8" style="stroke-width:1.30"/>
<ellipse class="k" cx="204.4" cy="675.3" rx="17.5" ry="7.9"/>
<path class="k" d="M185.5 673.9 C185.7 672.2 187.4 670.3 188.9 669.8 C190.4 669.4 193.8 669.8 194.4 671.2 C195 672.6 193.5 676.6 192.3 678.1 C191.2 679.5 188.7 680.8 187.6 680.1 C186.4 679.4 185.3 675.7 185.5 673.9Z"/>
<path class="k" d="M217.6 670.5 C218.6 669.3 221.7 670.2 223.1 671.2 C224.5 672.2 226 675 225.8 676.7 C225.7 678.4 223.8 681.1 222.4 681.5 C221.1 681.8 218.4 680.6 217.6 678.7 C216.8 676.9 216.7 671.8 217.6 670.5Z"/>
<ellipse class="p" cx="204.6" cy="676.7" rx="11.6" ry="4.9" style="stroke-width:1.20"/>
<ellipse class="p" cx="204.9" cy="672.9" rx="9.6" ry="3.6" style="stroke-width:1.40"/>
<path class="n" d="M199.9 663.7 L210.1 663.7" style="stroke-width:3.00"/>
<path class="n" d="M184.1 682.2 L189.6 678.1" style="stroke-width:1.20"/>
<path class="n" d="M219.7 678.7 L225.8 682.2" style="stroke-width:1.20"/>
<path class="n" d="M196.4 686.3 L199.2 681.5" style="stroke-width:1.20"/>
<path class="n" d="M211.5 686.3 L210.1 681.5" style="stroke-width:1.20"/>
<!-- 23_bolts -->
<path class="k" d="M454.2 662.9 L455.4 662 L461.2 662 L462.4 662.9 L462.4 676.1 L454.2 676.1Z"/>
<path class="n" d="M457.7 664.9 L457.7 672.5" style="stroke:#bbb;stroke-width:1.40"/>
<path class="p" d="M450.7 679 L450.7 688.9 L453.6 690.7 L463 690.7 L465.9 688.9 L465.9 679Z" style="stroke-width:2.60"/>
<path class="n" d="M453.6 680.2 L453.6 690.7" style="stroke-width:1.50"/>
<path class="n" d="M463 680.2 L463 690.7" style="stroke-width:1.50"/>
<path class="n" d="M450.7 686.6 L465.9 686.6" style="stroke-width:1.30"/>
<ellipse class="p" cx="458.3" cy="678.4" rx="9.7" ry="4" style="stroke-width:2.60"/>
<ellipse class="n" cx="458.3" cy="677.7" rx="7.6" ry="2.3" style="stroke-width:1.20"/>
<path class="k" d="M454.2 674.3 L454.2 677.5 L462.4 677.5 L462.4 674.3Z"/>
<path class="k" d="M480.1 674.6 L481.3 673.7 L486.9 673.7 L488.1 674.6 L488.1 686 L480.1 686Z"/>
<path class="n" d="M483.5 676.6 L483.5 682.5" style="stroke:#bbb;stroke-width:1.40"/>
<path class="p" d="M476.8 688.9 L476.8 698.1 L479.7 699.8 L488.4 699.8 L491.3 698.1 L491.3 688.9Z" style="stroke-width:2.60"/>
<path class="n" d="M479.7 690.1 L479.7 699.8" style="stroke-width:1.50"/>
<path class="n" d="M488.4 690.1 L488.4 699.8" style="stroke-width:1.50"/>
<path class="n" d="M476.8 695.7 L491.3 695.7" style="stroke-width:1.30"/>
<ellipse class="p" cx="484.1" cy="688.4" rx="10" ry="4" style="stroke-width:2.60"/>
<ellipse class="n" cx="484.1" cy="687.7" rx="7.9" ry="2.3" style="stroke-width:1.20"/>
<path class="k" d="M480.1 684.3 L480.1 687.4 L488.1 687.4 L488.1 684.3Z"/>
<ellipse class="p" cx="484.3" cy="664.3" rx="9.6" ry="5.9" style="stroke-width:3.00"/>
<ellipse class="n" cx="484.3" cy="663.8" rx="5.9" ry="3" style="stroke-width:1.60"/>
<path class="n" d="M477 662.6 L481.7 666.7 L487 666.7 L491.7 662.6" style="stroke-width:1.60"/>
<path class="n" d="M481.7 666.7 L482.3 661.4" style="stroke-width:1.30"/>
<path class="n" d="M487 666.7 L486.4 661.4" style="stroke-width:1.30"/>
<!-- 24_vent -->
<path d="M466.2 338.8 C461 340.7 443.3 347 435.2 350.2 C427.1 353.3 421.3 355.7 417.6 357.8 C413.9 359.8 413.9 360.9 413.1 362.5 C412.4 364 412.4 365.7 413.1 367.2 C413.9 368.6 413.9 369.3 417.6 371.3 C421.3 373.2 429.8 376.7 435.2 378.9 C440.5 381.1 447.4 383.6 449.8 384.5" fill="none" stroke="#151515" stroke-width="7" stroke-linejoin="round"/>
<path d="M466.2 338.8 C461 340.7 443.3 347 435.2 350.2 C427.1 353.3 421.3 355.7 417.6 357.8 C413.9 359.8 413.9 360.9 413.1 362.5 C412.4 364 412.4 365.7 413.1 367.2 C413.9 368.6 413.9 369.3 417.6 371.3 C421.3 373.2 429.8 376.7 435.2 378.9 C440.5 381.1 447.4 383.6 449.8 384.5" fill="none" stroke="#c4c4c4" stroke-width="3" stroke-linejoin="round"/>
<path d="M466.2 338.8 C461 340.7 443.3 347 435.2 350.2 C427.1 353.3 421.3 355.7 417.6 357.8 C413.9 359.8 413.9 360.9 413.1 362.5 C412.4 364 412.4 365.7 413.1 367.2 C413.9 368.6 413.9 369.3 417.6 371.3 C421.3 373.2 429.8 376.7 435.2 378.9 C440.5 381.1 447.4 383.6 449.8 384.5" fill="none" stroke="#333" stroke-width="2.6" stroke-dasharray="0.9 2.1"/>
<ellipse class="k" cx="449" cy="384.1" rx="2.6" ry="3.8" transform="rotate(-25 449 384.1)"/>
<ellipse class="n" cx="465.6" cy="339" rx="1.4" ry="3.3" transform="rotate(-25 465.6 339)" style="stroke-width:1.50"/>
<ellipse class="p" cx="473.2" cy="334.7" rx="3.2" ry="5.9" style="stroke-width:2.40"/>
<path class="n" d="M469.1 328.5 L475 328.1 L475.6 331.4" style="stroke-width:2.20"/>
<ellipse class="p" cx="458.2" cy="386.7" rx="2.6" ry="5.9" transform="rotate(22 458.2 386.7)" style="stroke-width:2.40"/>
<path class="n" d="M458.6 380.6 L463.3 380 L462.1 385.3" style="stroke-width:2.20"/>
<path class="p" d="M492.7 371.4 L502.1 371.1 L502.6 378.8 L492.5 379.1Z" style="stroke-width:2.40"/>
<path class="k" d="M494.8 373.8 L500.1 373.6 L500.2 376.7 L495 377Z"/>
<path class="k" d="M490.2 380.8 C490.6 379.8 491 378.9 493.1 378.5 C495.1 378 500.4 377.9 502.5 378.2 C504.6 378.6 505.1 379.8 505.6 380.8 C506.1 381.8 505.9 383.4 505.4 384.3 C504.9 385.3 504.5 386 502.5 386.3 C500.4 386.7 495.1 386.7 493.1 386.3 C491.1 386 490.9 385.3 490.4 384.3 C489.9 383.4 489.7 381.8 490.2 380.8Z"/>
<path class="n" d="M492.5 381.4 L503 381.2" style="stroke:#eee;stroke-width:1.10"/>
<path class="k" d="M493.9 386.1 L500 386.1 L500 394.9 L497 396.4 L493.9 394.9Z"/>
<path class="n" d="M495.4 389 L498.6 389" style="stroke:#ccc;stroke-width:0.90"/>
<path class="n" d="M495.4 391.7 L498.6 391.7" style="stroke:#ccc;stroke-width:0.90"/>
<path class="p" d="M471.4 392.2 L491.9 399.2 L491.3 403.7 L487.8 404.3 L469.6 397.2 L469.3 394.3Z" style="stroke-width:2.20"/>
<ellipse class="k" cx="470.8" cy="394.9" rx="1.9" ry="2.8" transform="rotate(-20 470.8 394.9)"/>
<path class="n" d="M473.8 393.1 L490.2 399.2" style="stroke-width:2.60"/>
<ellipse class="p" cx="485.2" cy="413.6" rx="17" ry="7.3" style="stroke-width:2.30"/>
<ellipse class="p" cx="485.2" cy="410.7" rx="17" ry="7.3" style="stroke-width:2.30"/>
<ellipse class="n" cx="485.2" cy="410.5" rx="13.8" ry="5.4" style="stroke-width:1.20"/>
<path class="p" d="M478.4 401.3 L478.4 408.6 L482 410.7 L490.2 410.7 L493.9 408.6 L493.9 401.3Z" style="stroke-width:2.00"/>
<ellipse class="p" cx="486.2" cy="401.3" rx="7.7" ry="3" style="stroke-width:2.00"/>
<path class="n" d="M479 405.4 C480.2 405.8 483.6 407.4 486.1 407.4 C488.5 407.4 492.4 405.8 493.7 405.4" style="stroke-width:2.40"/>
<path class="n" d="M472.6 411.9 C473.6 412.5 475.1 414.8 478.4 415.4 C481.8 416 489.2 416 492.5 415.4 C495.8 414.8 497.4 412.5 498.4 411.9" style="stroke-width:1.60"/>
<path class="p" d="M477 419.5 L477 427.1 L480.2 428.9 L489.6 428.9 L492.5 427.1 L492.5 419.5" style="stroke-width:2.40"/>
<path class="n" d="M477.3 423.6 C478.4 423.9 481.8 425.4 484.3 425.4 C486.8 425.3 491.1 423.7 492.5 423.4" style="stroke-width:1.40"/>
<path class="n" d="M484.3 420.1 L484.3 428.9" style="stroke-width:1.40"/>
<path class="n" d="M479 425.9 L483.1 427.1" style="stroke-width:3.00"/>
<path class="n" d="M482.5 430.4 L487.8 430.4" style="stroke:#666;stroke-width:1.30"/>
<path class="k" d="M467.3 445.9 C467.2 443.9 468.2 441.7 469.6 440 C471.1 438.3 473.5 436.9 476.1 435.9 C478.7 434.9 482.5 434 485.5 434.1 C488.4 434.3 491.4 435.5 493.7 436.7 C495.9 438 498 439.9 498.9 441.8 C499.9 443.6 500.1 445.9 499.5 447.6 C498.9 449.4 497.4 451 495.4 452.3 C493.5 453.6 490.8 454.8 487.8 455.2 C484.8 455.7 480.2 455.6 477.3 455 C474.3 454.4 471.9 453.2 470.2 451.7 C468.6 450.2 467.4 447.8 467.3 445.9Z"/>
<ellipse class="n" cx="483.7" cy="447" rx="6.4" ry="2.6" style="stroke:#eee;stroke-width:1.20"/>
<path class="n" d="M472.6 441.2 L475.5 445.9" style="stroke:#eee;stroke-width:1.00"/>
<path class="n" d="M492.5 440 L490.7 445.3" style="stroke:#eee;stroke-width:1.00"/>
<path class="n" d="M482 437.7 L483.1 442.3" style="stroke:#eee;stroke-width:1.00"/>
<path class="n" d="M473.8 451.1 L490.2 452" style="stroke:#eee;stroke-width:1.00"/>
<ellipse class="n" cx="471.4" cy="444.7" rx="1.2" ry="0.9" style="stroke:none;fill:#eee"/>
<ellipse class="n" cx="493.7" cy="447" rx="1.2" ry="0.9" style="stroke:none;fill:#eee"/>
<path class="n" d="M485.7 433.2 L486.6 435.9" style="stroke-width:2.00"/>
<!-- 25_box21 -->
<path d="M668.8 304.7 C665.1 306.2 651.7 311.5 646.9 313.6 C642.1 315.7 641.1 316.1 639.8 317.5 C638.5 318.9 638.4 320.8 639.1 322.2 C639.7 323.6 638 323.2 643.8 326.1 C649.5 329 668.5 337.2 673.4 339.4" fill="none" stroke="#151515" stroke-width="6.2" stroke-linejoin="round"/>
<path d="M668.8 304.7 C665.1 306.2 651.7 311.5 646.9 313.6 C642.1 315.7 641.1 316.1 639.8 317.5 C638.5 318.9 638.4 320.8 639.1 322.2 C639.7 323.6 638 323.2 643.8 326.1 C649.5 329 668.5 337.2 673.4 339.4" fill="none" stroke="#fff" stroke-width="2.4" stroke-linejoin="round"/>
<path class="p" d="M666.4 301.9 L673.4 298 L676.6 305 L669.5 308.9Z" style="stroke-width:2.30"/>
<path class="p" d="M672.7 297.2 L681.2 293.3 L685.2 301.9 L676.6 305.8Z" style="stroke-width:2.30"/>
<path class="p" d="M678.9 291.7 L691.4 288.1 L695.3 291.7 L694.5 301.9 L685.9 305.8 L682 301.9Z" style="stroke-width:2.30"/>
<path class="n" d="M685.2 294.1 L687.5 304.2" style="stroke-width:2.40"/>
<path class="n" d="M679.7 292.5 L691.4 288.6 L694.5 292.5 L687.5 294.8Z" style="stroke-width:1.60"/>
<path class="p" d="M672.7 336.2 L679.7 334.7 L682.8 342.5 L675 344.8Z" style="stroke-width:2.30"/>
<path class="p" d="M678.9 337 L687.5 337.8 L689.1 346.4 L681.2 347.2Z" style="stroke-width:2.30"/>
<path class="p" d="M685.2 339.4 L696.9 339.4 L701.6 344.1 L700 352.7 L693.8 355 L686.7 351.1Z" style="stroke-width:2.30"/>
<path class="n" d="M692.2 340.2 L693.8 354.2" style="stroke-width:2.40"/>
<path class="n" d="M696.9 340.2 L698.4 352.7" style="stroke-width:1.60"/>
<path class="k" d="M698.8 287 L707.8 285.5 L708.6 280.8 L715.6 280 L717.5 286.2 L716.9 295.9 L707.8 297.5 L700 296.9Z"/>
<path class="n" d="M702.3 289.4 L706.2 289.1 L706.6 293.3 L702.5 293.6Z" style="stroke:#eee;stroke-width:1.00"/>
<path class="n" d="M709.4 282.8 L714.8 282.5" style="stroke:#eee;stroke-width:1.20"/>
<path class="n" d="M709.4 288.6 L715.6 288.3" style="stroke:#eee;stroke-width:1.20"/>
<path class="k" d="M706.2 348.8 L709.4 346.9 L719.5 347.5 L720.6 355 L719.5 362.8 L713.3 363.1 L706.2 358.1Z"/>
<path class="n" d="M709.4 350 L715.6 350 L715.9 353.4 L709.7 353.8Z" style="stroke:#eee;stroke-width:1.00"/>
<path class="n" d="M710.2 356.6 L717.2 360" style="stroke:#eee;stroke-width:1.20"/>
<!-- 26_rings -->
<path class="p" d="M824.4 274.4 L834.9 274.1 L835.4 282.3 L824.1 282.6Z" style="stroke-width:2.40"/>
<path class="k" d="M826.4 276.7 L832.8 276.5 L833 280.8 L826.5 281.1Z"/>
<path class="n" d="M828.7 277.3 L830.7 277.3 L830.7 280.2 L828.7 280.2Z" style="stroke:#ddd;stroke-width:0.80"/>
<path class="k" d="M819.9 286.7 C820.4 285.5 820.8 283.3 823.4 282.6 C826.1 281.9 833.1 281.7 835.7 282.3 C838.4 283 838.8 285.4 839.3 286.7 C839.7 287.9 839.4 289 838.7 289.8 C838 290.7 837.6 291.4 835.2 291.7 C832.7 292 826.5 292 824 291.7 C821.6 291.4 821.2 290.7 820.5 289.8 C819.8 289 819.4 287.9 819.9 286.7Z"/>
<path class="n" d="M822.9 286.1 L836.3 285.9" style="stroke:#eee;stroke-width:1.10"/>
<path class="k" d="M825.4 291.4 L833.4 291.4 L833.4 301.3 L829.3 302.7 L825.4 301.3Z"/>
<path class="n" d="M827.2 294.3 L831.6 294.3" style="stroke:#ccc;stroke-width:0.90"/>
<path class="n" d="M827.2 297.6 L831.6 297.6" style="stroke:#ccc;stroke-width:0.90"/>
<ellipse class="p" cx="859.2" cy="321" rx="37.7" ry="17.6" style="stroke-width:2.40"/>
<ellipse class="p" cx="859.2" cy="318.7" rx="37.7" ry="17.6" style="stroke-width:2.40"/>
<ellipse class="n" cx="859.8" cy="318.3" rx="24" ry="10.5" style="stroke-width:2.20"/>
<ellipse class="n" cx="859.8" cy="319.5" rx="21.7" ry="9.1" style="stroke-width:1.30"/>
<ellipse class="p" cx="859.8" cy="318.3" rx="16.4" ry="6.1" style="stroke-width:2.20"/>
<path class="k" d="M841 321.3 C842.1 320.1 844.7 319.7 846.9 320.1 C849 320.5 852.9 321.8 853.9 323.6 C854.9 325.4 854.1 329.5 852.7 330.6 C851.4 331.8 847.8 331.2 845.7 330.6 C843.7 330 841.2 328.7 840.4 327.1 C839.6 325.5 839.9 322.4 841 321.3Z"/>
<path class="k" d="M855.1 324.8 L866.8 324.2 L867.4 327.7 L855.1 328.3Z"/>
<path class="k" d="M856.3 331.2 L865.6 330.6 L865.6 333 L856.3 333.4Z"/>
<path class="n" d="M838.7 306 C840.4 305.5 845.5 303.7 849.2 303.1 C852.9 302.5 856.6 302.3 860.9 302.5 C865.2 302.7 870.7 303.3 875 304.3 C879.3 305.2 884.8 307.7 886.7 308.4" style="stroke-width:3.20;stroke-dasharray:5 3"/>
<path class="n" d="M882 316.6 L892.6 317.2" style="stroke-width:2.60"/>
<path class="n" d="M826.4 316 L829.9 316.6" style="stroke-width:2.40"/>
<path class="n" d="M835.2 325.9 C835.9 326.7 837.5 329.3 839.8 330.6 C842.2 332 847.7 333.6 849.2 334.1" style="stroke-width:1.80;stroke-dasharray:4 3"/>
<path class="n" d="M872.7 331.8 C874.2 331.3 879.3 330 882 328.9 C884.8 327.7 887.9 325.5 889.1 324.8" style="stroke-width:1.80;stroke-dasharray:4 3"/>
<path class="n" d="M855.1 338.2 L863.9 338.2" style="stroke-width:1.60"/>
<path class="p" d="M818.2 365.8 C818.2 362.6 819.4 359.1 822.3 356.4 C825.1 353.7 829.1 351.2 835.2 349.6 C841.2 348.1 850.8 347 858.6 347 C866.4 347 876 348.1 882 349.6 C888.1 351.2 891.9 353.5 894.9 356.4 C898 359.3 900 363.8 900.2 367 C900.4 370.1 899.1 372.6 896.1 375.2 C893.1 377.7 888.3 380.6 882 382.2 C875.8 383.8 866.4 384.9 858.6 385 C850.8 385.1 841.2 384.3 835.2 382.8 C829.1 381.2 825.1 378.6 822.3 375.7 C819.4 372.9 818.2 369 818.2 365.8Z" style="stroke-width:2.60"/>
<ellipse class="n" cx="858.6" cy="364.8" rx="37.7" ry="17.1" style="stroke-width:2.60;stroke-dasharray:2.2 2.6"/>
<ellipse class="n" cx="858.6" cy="364.6" rx="33.4" ry="14.3" style="stroke-width:2.00;stroke-dasharray:1.6 3.6"/>
<ellipse class="n" cx="858.6" cy="364" rx="26.4" ry="11.1" style="stroke-width:2.00"/>
<ellipse class="n" cx="858.6" cy="364.6" rx="22.3" ry="8.8" style="stroke-width:1.20"/>
<ellipse class="p" cx="858.6" cy="363.4" rx="17.6" ry="6.4" style="stroke-width:2.40"/>
<path class="p" d="M852.2 348.8 L868 348.8 L868 353.1 L852.2 353.5Z" style="stroke-width:2.00"/>
<path class="n" d="M854.5 351.1 L866.2 350.9" style="stroke-width:2.60"/>
<path class="n" d="M849.2 345.9 L850.6 348.8" style="stroke-width:2.40"/>
<path class="p" d="M852.7 376.3 L866.8 376.1 L866.8 379.3 L852.7 379.6Z" style="stroke-width:1.80"/>
<!-- 27_pumpunit -->
<path class="p" d="M845.8 433.8 L845.8 477.5 L849.2 480.5 L858.8 481.6 L867.7 480.2 L870 477.5 L870 466.6 L874.5 464.5 L874.5 452.9 L878.2 450.2 L878.2 433.8Z" style="stroke-width:2.30"/>
<path class="k" d="M857.4 436.5 L864.3 436.5 L864.3 461.1 L857.4 461.1Z"/>
<path class="n" d="M847.2 437.9 L847.2 455.6 L851.3 459 L856.1 455.6 L856.1 437.9" style="stroke-width:1.80"/>
<path class="n" d="M849.2 442 L849.2 452.9 L852 455.6" style="stroke-width:2.60"/>
<path class="n" d="M865.6 436.5 L865.6 466.6 L870 466.6" style="stroke-width:2.00"/>
<path class="n" d="M870 450.2 L874.5 450.2" style="stroke-width:1.60"/>
<path class="n" d="M871.8 436.5 L871.8 448.8" style="stroke-width:1.60"/>
<path class="n" d="M846.5 458.4 C848.3 459 853.5 462.3 857.4 462.5 C861.3 462.6 867.9 459.6 870 459" style="stroke-width:1.80"/>
<path class="n" d="M854.7 472 L854.7 477.5 L860.2 477.5 L860.8 472 L864.3 477.5" style="stroke-width:1.80"/>
<path class="k" d="M821.9 423.9 L831.4 423.2 L832.1 429.9 L822.6 430.7Z"/>
<path class="k" d="M882 431.3 L890.2 431.7 L891.3 435.1 L887.5 437.6 L882.3 437.2Z"/>
<ellipse class="p" cx="858.1" cy="426.6" rx="27.3" ry="10.9" style="stroke-width:2.40"/>
<ellipse class="p" cx="858.1" cy="424.2" rx="27.3" ry="10.9" style="stroke-width:2.40"/>
<ellipse class="n" cx="858.1" cy="423.5" rx="23.2" ry="8.5" style="stroke-width:1.30"/>
<path class="p" d="M839.6 422.1 C840.1 421 840.6 417.1 842.4 415.3 C844.2 413.5 847.4 412 850.6 411.2 C853.8 410.4 857.9 410.2 861.5 410.5 C865.2 410.9 869.8 411.8 872.5 413.2 C875.1 414.7 876.7 417.6 877.2 419.4 C877.8 421.2 876.1 423.4 875.9 424.2" style="stroke-width:2.00"/>
<ellipse class="n" cx="857.4" cy="419.4" rx="16.4" ry="6.6" style="stroke-width:1.50"/>
<path class="p" d="M847.9 410.5 L848.1 407.1 L856.7 406.7 L857.4 410.5" style="stroke-width:2.20"/>
<path class="k" d="M859.1 415.3 L871.1 414.6 L871.8 426.2 L859.5 427.2Z"/>
<path class="n" d="M862.2 417.3 L868.4 417.1 L868.6 422.1 L862.5 422.5Z" style="stroke:#eee;stroke-width:1.00"/>
<path class="k" d="M852.6 422.8 L858.8 420.8 L859.1 428.3 L853.3 429Z"/>
<path class="k" d="M865.6 493.2 C865.9 492 867.9 490.5 869.7 489.8 C871.6 489.1 874.5 488.7 876.6 489.1 C878.6 489.6 881.6 491.3 882 492.5 C882.5 493.8 880.7 495.7 879.3 496.6 C877.9 497.6 875.7 498.2 873.8 498.3 C872 498.3 869.7 497.8 868.4 496.9 C867 496.1 865.4 494.4 865.6 493.2Z"/>
<ellipse class="n" cx="873.8" cy="494.6" rx="2.5" ry="1.6" style="stroke:#eee;stroke-width:1.00"/>
<path class="n" d="M869.7 491.9 L873.1 491.2" style="stroke:#eee;stroke-width:1.00"/>
<path class="p" d="M867.7 508.9 L871.1 505.5 L878.6 505.1 L882 508.9 L882 513.1 L890.9 513.7 L894.3 517.2 L894.3 525.4 L890.9 528.1 L882 527.4 L882 530.8 L876.6 534.9 L876.6 539 L873.1 539 L873.1 534.2 L867.7 530.8Z" style="stroke-width:2.40"/>
<path class="k" d="M870.4 507.6 L878.6 507.3 L879.3 512.4 L871.1 512.8Z"/>
<path class="n" d="M868.4 517.2 L882 516.5" style="stroke-width:2.40"/>
<path class="n" d="M868.4 521.3 L882 521" style="stroke-width:1.60"/>
<path class="n" d="M871.1 513.7 L871.1 529.5" style="stroke-width:1.80"/>
<ellipse class="n" cx="889.6" cy="521" rx="3" ry="5.5" style="stroke-width:2.20"/>
<path class="k" d="M882 517.8 L887.5 517.8 L887.5 525.4 L882 525.4Z"/>
<path class="n" d="M883.4 519.9 L886.1 523.3" style="stroke:#eee;stroke-width:1.00"/>
<path class="k" d="M873.1 524.7 L876.6 524.7 L876.6 530.1 L873.1 530.1Z"/>
<!-- 28_box6 -->
<path class="p" d="M706.7 437.1 L712.1 433.4 L719.6 434.4 L720.3 444 L716.2 446.7 L707.3 446Z" style="stroke-width:2.60"/>
<path class="n" d="M709.4 438.5 L716.9 437.8 L717.2 444.6 L709.7 445.1Z" style="stroke-width:1.40"/>
<path class="p" d="M722.4 442.6 L725.8 439.9 L730.3 441.2 L730.9 449.4 L727.2 452.2 L723.1 450.1Z" style="stroke-width:2.40"/>
<ellipse class="n" cx="726.2" cy="445.7" rx="1.9" ry="3" style="stroke-width:1.40"/>
<path class="n" d="M727.2 451.5 C727.2 452.6 728.4 456.4 727.2 458.3 C725.9 460.3 720.9 462.3 719.6 463.1" style="stroke-width:2.60"/>
<path class="n" d="M707.3 446 C707.5 448.8 707.3 455.6 708 462.4 C708.7 469.3 711 482 711.4 487 C711.9 492 710.9 491.6 710.8 492.5" style="stroke-width:2.40"/>
<path class="n" d="M719.6 446 C719.8 448.8 719.9 455.6 720.3 462.4 C720.8 469.3 722 482 722.4 487 C722.7 492 722.4 491.6 722.4 492.5" style="stroke-width:2.40"/>
<path class="n" d="M713.5 447.4 C713.6 450.6 713.6 459 714.2 466.5 C714.8 474 716.5 488.2 716.9 492.5" style="stroke-width:2.20"/>
<path class="k" d="M707.3 446.7 L713.5 446.7 L713.5 455.6 L707.3 455.6Z"/>
<path class="k" d="M709.4 459.7 L712.1 459.7 L712.5 465.2 L709.8 465.2Z"/>
<path class="k" d="M716.2 458.3 L719 458.3 L719.6 465.2 L716.9 465.2Z"/>
<path class="k" d="M710.8 469.3 L714.2 469.3 L714.9 477.5 L711.4 477.5Z"/>
<path class="k" d="M717.6 470.6 L720.3 470.6 L721 478.8 L718.3 478.8Z"/>
<path class="k" d="M712.8 481.6 L715.8 481.6 L716.4 489.8 L713.4 489.8Z"/>
<path class="k" d="M719 482.9 L721.4 482.9 L721.8 490.5 L719.4 490.5Z"/>
<path class="p" d="M709 493.2 L723.5 492.5 L723.8 499.3 L721 500.7 L721 509.6 L712.1 510.3 L711.7 501.4 L709 500Z" style="stroke-width:2.60"/>
<path class="k" d="M709.4 493.9 L723.2 493.2 L723.3 497.3 L709.5 498Z"/>
<path class="n" d="M712.1 501.4 L721 500.7" style="stroke-width:1.60"/>
<path class="n" d="M714.9 511 L715.8 514.4 L754 531.8 L757.4 534.6" style="stroke-width:1.80;stroke-dasharray:7 1.5"/>
<path class="k" d="M759.3 457.8 L760.9 456.4 L773 456.4 L774.3 457.8 L774.3 464.9 L773 466.5 L760.9 466.5 L759.3 464.9Z"/>
<path class="n" d="M762 459.1 L766.1 458.9 L766.4 463.5 L762.3 463.9Z" style="stroke:#aaa;stroke-width:0.90"/>
<path class="n" d="M768.2 458.9 L771.9 458.9 L771.9 463.5 L768.3 463.8Z" style="stroke:#aaa;stroke-width:0.90"/>
<path class="k" d="M759.3 517.9 L760.9 516.6 L773 516.6 L774.3 517.9 L774.3 525 L773 526.7 L760.9 526.7 L759.3 525Z"/>
<path class="n" d="M762 519.3 L766.1 519 L766.4 523.7 L762.3 524.1Z" style="stroke:#aaa;stroke-width:0.90"/>
<path class="n" d="M768.2 519 L771.9 519 L771.9 523.7 L768.3 523.9Z" style="stroke:#aaa;stroke-width:0.90"/>
<rect x="759.7" y="472.3" width="12.3" height="38" rx="4" ry="4" style="fill:#fff;stroke:#151515;stroke-width:2.6"/>
<path class="n" d="M762 476.1 L761.8 506.2" style="stroke-width:1.60"/>
<path class="n" d="M769.6 476.1 L770 506.2" style="stroke-width:1.60;stroke-dasharray:3 2"/>
<path class="n" d="M762 475.4 L769.6 475.4" style="stroke-width:2.00"/>
<path class="n" d="M764.8 499.3 L768.9 506.9" style="stroke-width:1.60"/>
<path class="p" d="M752.2 552.3 L752.2 583.8 L756.1 586.8 L756.7 590.6 L760.2 593.1 L765.6 593.1 L769 590.6 L770 586.8 L774.5 583.8 L774.5 552.3 L771.1 547.6 L755.4 547.6Z" style="stroke-width:2.80"/>
<path class="n" d="M752.6 551.7 C754.3 552.1 759.2 554.5 762.9 554.4 C766.5 554.3 772.6 551.8 774.5 551.3" style="stroke-width:3.40"/>
<path class="n" d="M752.6 555.8 C754.3 556.2 759.2 558.2 762.9 558.1 C766.5 558 772.6 555.8 774.5 555.4" style="stroke-width:1.30"/>
<path class="n" d="M756.1 586.8 C757.2 587.1 760.6 588.6 762.9 588.6 C765.2 588.6 768.8 587.1 770 586.8" style="stroke-width:1.60"/>
<path class="k" d="M754.7 538 L758.8 533.9 L764.9 535.9 L767 532.5 L770.4 535.3 L771.1 548.2 L755 548.5Z"/>
<path class="n" d="M758.1 538 L761.5 537.3 L762.2 542.8 L758.8 543.5Z" style="stroke:#eee;stroke-width:1.00"/>
<path class="n" d="M765.6 537.3 L767.7 537 L768 544.1 L765.9 544.4Z" style="stroke:#eee;stroke-width:0.90"/>
<path class="n" d="M754.4 563.3 L754.4 579.7" style="stroke-width:1.00;stroke:#888"/>
<path class="p" d="M719.8 628.2 L749.9 611.4 L776.6 600.9 L798.7 612.5 L796.4 616.3 L745.8 640.1 L741 638.8 L720.5 630.6Z" style="stroke-width:2.60"/>
<path class="n" d="M725.3 628.2 L750.6 614.6 L775.9 605 L793 613.2 L745.1 635.7Z" style="stroke-width:1.30"/>
<path class="n" d="M736.9 626.9 L745.1 618" style="stroke-width:1.40"/>
<path class="n" d="M741 628.9 L749.2 619.3" style="stroke-width:1.40"/>
<path class="n" d="M745.8 630.3 L754 620.7" style="stroke-width:1.40"/>
<path class="n" d="M750.6 628.9 L760.2 620" style="stroke-width:1.40"/>
<path class="n" d="M756.1 626.9 L764.3 620.7" style="stroke-width:1.40"/>
<path class="n" d="M772.5 618 L779.3 612.5" style="stroke-width:1.40"/>
<path class="n" d="M776.6 619.3 L783.4 613.9" style="stroke-width:1.40"/>
<path class="n" d="M734.2 623.4 L745.1 625.5" style="stroke-width:1.40"/>
<path class="n" d="M739.6 620.7 L757.4 624.1" style="stroke-width:1.40"/>
<path class="k" d="M750.6 605.7 L754.7 602.2 L758.8 601.6 L758.8 597.5 L767 597.2 L767.3 601.6 L771.1 603.6 L771.8 610.5 L776.6 615.2 L771.1 619.3 L764.3 615.9 L758.8 618 L752 613.9Z"/>
<path class="n" d="M760.8 599.5 L764.9 599.5 L765.1 604.3 L761 604.6Z" style="stroke:#eee;stroke-width:1.00"/>
<path class="n" d="M754.7 608.4 L765.6 610.5 L768.4 613.9" style="stroke:#eee;stroke-width:1.10"/>
<ellipse class="p" cx="757.4" cy="643.9" rx="6.8" ry="3" style="stroke-width:2.80"/>
<ellipse class="n" cx="757.4" cy="643.7" rx="2.5" ry="1" style="stroke-width:1.40"/>
<path class="k" d="M683 551 L685.9 547.6 L692.7 547.6 L693.2 545.6 L704.5 546.1 L704.9 549 L708.8 551 L708.8 561.2 L702.5 563.7 L698.6 566.6 L688.8 567.1 L683 561.2Z"/>
<path class="n" d="M687.9 559.3 C688.4 558.1 690.1 556.1 691.8 555.6 C693.4 555.1 696.5 555.3 697.6 556.4 C698.8 557.5 699.4 561 698.6 562.2 C697.8 563.4 694.4 563.6 692.7 563.7 C691 563.8 689.2 563.4 688.3 562.7 C687.5 562 687.3 560.5 687.9 559.3Z" style="fill:#fff;stroke:none"/>
<path class="n" d="M694.7 549 L702.5 548.6" style="stroke:#eee;stroke-width:1.10"/>
<path class="n" d="M702.5 553.4 L704.5 551" style="stroke:#eee;stroke-width:1.00"/>
<path class="n" d="M685.9 554.4 L688.8 552" style="stroke:#eee;stroke-width:1.00"/>
<path class="p" d="M679.1 580.8 L681.5 588.6 L688.8 593.5 L702.5 593.7 L708.4 591 L711.8 584.7 L710.3 575.9 L702.5 571.5 L688.8 571 L682 573.9Z" style="stroke-width:2.60"/>
<path class="k" d="M678.6 583.2 L680 578.8 L683 573.9 L688.8 571.2 L702.5 571.5 L709.8 574.4 L711.8 582.7 L710.3 589.6 L704.5 592.5 L702.5 584.7 L702.5 578.8 L694.7 580.8 L686.9 577.9 L682 580.8Z"/>
<path class="n" d="M694.7 573.9 L698.6 573.9 L698.6 578.3 L694.7 578.3Z" style="fill:#fff;stroke:none"/>
<path class="n" d="M694.2 585.7 L698.1 585.7 L698.1 589.6 L694.2 589.6Z" style="stroke-width:1.60"/>
<path class="n" d="M706.4 575.9 L708.4 575.9 L708.4 578.8 L706.4 578.8Z" style="fill:#fff;stroke:none"/>
<path class="n" d="M698.6 551 L701 550.7 L701.2 553.9 L698.8 554.2Z" style="fill:#ddd;stroke:none"/>
<path class="n" d="M685.4 557.8 L686.9 556.9 L687.4 559.3 L685.9 559.8Z" style="fill:#ddd;stroke:none"/>
<path class="n" d="M684.4 575.9 L686.4 574.4 L686.9 576.9 L685.1 577.9Z" style="fill:#ddd;stroke:none"/>
<!-- 29_p13 -->
<path class="p" d="M940.1 567.9 C940.8 565.2 943.2 563.5 944.8 562.6 C946.5 561.6 948.8 561.6 950.1 562.2 C951.4 562.8 952.4 563.8 952.7 566.1 C953.1 568.3 953.3 573.6 952.4 575.8 C951.5 578 949.4 578.8 947.5 579.3 C945.5 579.7 942 580.3 940.8 578.4 C939.6 576.5 939.4 570.5 940.1 567.9Z" style="stroke-width:2.60"/>
<path class="n" d="M943.1 567 L948.9 565.2" style="stroke-width:1.30"/>
<path class="k" d="M950.6 568.7 L952.7 568.7 L952.7 574 L950.6 574Z"/>
<path d="M944.8 579.3 C944.7 582.4 943.6 592.3 943.9 597.7 C944.3 603.2 945.9 607.8 947.1 611.8 C948.3 615.8 951.1 618.6 951 621.5 C950.9 624.3 949.1 627.6 946.6 629 C944.1 630.4 937.8 629.6 936 629.7" fill="none" stroke="#151515" stroke-width="5" stroke-linejoin="round"/>
<path d="M944.8 579.3 C944.7 582.4 943.6 592.3 943.9 597.7 C944.3 603.2 945.9 607.8 947.1 611.8 C948.3 615.8 951.1 618.6 951 621.5 C950.9 624.3 949.1 627.6 946.6 629 C944.1 630.4 937.8 629.6 936 629.7" fill="none" stroke="#fff" stroke-width="1.6" stroke-linejoin="round"/>
<path class="k" d="M917.2 605.6 L922.9 601.6 L935.2 602.1 L939.6 606.5 L939.6 625.9 L934.3 629.7 L921.1 629.7 L917.2 625Z"/>
<path class="n" d="M919.3 606.5 L923.2 606.5 L923.2 610.4 L919.3 610.4Z" style="stroke:#eee;stroke-width:0.90"/>
<path class="n" d="M919.3 614.4 L923.2 614.4 L923.2 618.3 L919.3 618.3Z" style="stroke:#eee;stroke-width:0.90"/>
<path class="n" d="M926.4 604.8 L931.3 604.8 L931.3 610 L926.4 610Z" style="stroke:#eee;stroke-width:0.90"/>
<path class="n" d="M926.4 613.6 L931.3 613.6 L931.3 618.8 L926.4 618.8Z" style="stroke:#eee;stroke-width:0.90"/>
<path class="n" d="M926.4 621.5 L931.3 621.5 L931.3 625.9 L926.4 625.9Z" style="stroke:#eee;stroke-width:0.90"/>
<path class="n" d="M934.3 609.2 L937.4 609.2 L937.4 616.2 L934.3 616.2Z" style="stroke:#eee;stroke-width:0.90"/>
<path class="n" d="M916.7 607.4 L919.3 607.4" style="stroke-width:3.00"/>
<path class="n" d="M916.7 617.1 L919.3 617.1" style="stroke-width:3.00"/>
<path class="p" d="M920.2 629.7 L920.2 639 L926.4 639.9 L927.2 635.5 L935.2 635.5 L935.2 629.7Z" style="stroke-width:2.40"/>
<path class="n" d="M934.3 636.4 L934.6 659.3 L914.9 668.9 L926.4 675.1 L935.2 681.2 L939.6 685.6" style="stroke-width:2.80"/>
<path class="n" d="M932.5 639.9 L932.9 657.5" style="stroke-width:1.60"/>
<ellipse class="p" cx="915.5" cy="669.1" rx="1.8" ry="1.6" style="stroke-width:2.00"/>
<path class="p" d="M921.1 686.5 L936.9 683 L957.1 691.2 L957.1 700 L941.8 704.6 L921.1 696.5Z" style="stroke-width:2.60"/>
<path class="n" d="M921.1 686.5 L942.2 695.3 L957.1 691.2" style="stroke-width:1.80"/>
<path class="n" d="M942.2 695.3 L941.8 704.6" style="stroke-width:1.80"/>
<path class="k" d="M949.2 694.8 L956.6 692.7 L956.6 699.3 L949.6 701.4Z"/>
<path class="p" d="M870.8 544.5 L879.3 544.2 L880 545.9 L882.7 546.1 L882.7 551.3 L880 551.9 L879.3 554.1 L871.1 554.1Z" style="stroke-width:2.60"/>
<path class="n" d="M873.1 546.5 L877.2 546.5 L877.2 552 L873.1 552Z" style="stroke-width:1.60"/>
<path class="n" d="M875.2 546.5 L875.2 552" style="stroke-width:1.40"/>
</g><!--/parts-->

<!-- code text -->
<g style="font-family:'Liberation Serif',serif;font-size:14px;fill:#111;stroke:#111;stroke-width:0.35px"><text x="792" y="722.3" textLength="35.5" lengthAdjust="spacingAndGlyphs">S3A1</text><text x="843.5" y="722.3" textLength="43.5" lengthAdjust="spacingAndGlyphs">H0300</text></g><path d="M831 717.2H841.5" stroke="#aaa" stroke-width="1.5"/>
</g>

<!-- red highlight box on 6 -->
<g filter="url(#bl)">
<rect x="788" y="690.5" width="16" height="17.8" fill="#b0b0b0" stroke="#ee4d5c" stroke-width="2.6"/>
<text class="lbl" x="796" y="704.5" style="font-weight:bold;font-size:15px">6</text>
</g>
</svg>
<div id="tip">6</div>
</body>
</html>
